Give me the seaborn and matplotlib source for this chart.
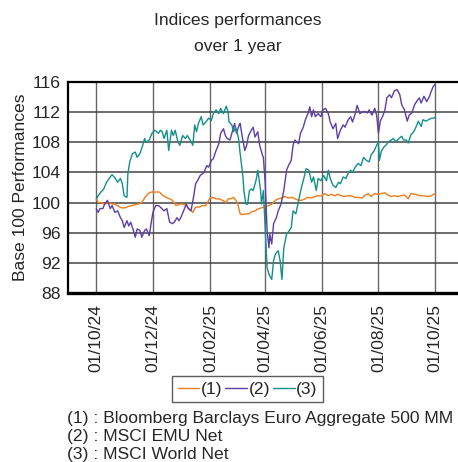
import numpy as np
import pandas as pd
import matplotlib
matplotlib.use("Agg")
import matplotlib.pyplot as plt
import seaborn as sns

# ---------------- data ----------------
start_date = "2024-10-01"
series_names = ["(1)", "(2)", "(3)"]
series_desc = ["Bloomberg Barclays Euro Aggregate 500 MM", "MSCI EMU Net", "MSCI World Net"]

days_1 = [0, 2, 6, 9, 13, 17, 20, 24, 27, 31, 35, 38, 42, 45, 49, 52, 56, 59, 63, 67, 68, 72, 75, 79,
          82, 86, 90, 93, 97, 100, 104, 107, 111, 114, 118, 122, 125, 129, 132, 136, 140, 142, 145,
          148, 152, 155, 157, 161, 164, 168, 171, 175, 178, 182, 186, 189, 193, 196, 200, 203, 207,
          211, 214, 218, 221, 225, 228, 232, 235, 239, 243, 246, 250, 253, 257, 260, 264, 268, 271,
          275, 278, 282, 286, 289, 293, 296, 300, 303, 307, 311, 314, 318, 321, 325, 328, 332, 336,
          339, 343, 346, 350, 353, 357, 361, 365]
vals_1 = [100.5, 100.0, 100.0, 99.8, 100.0, 99.8, 99.8, 99.5, 99.3, 99.3, 99.5, 99.6, 99.7, 99.8,
          100.0, 100.6, 101.2, 101.4, 101.4, 101.4, 101.4, 100.9, 100.7, 100.5, 100.3, 99.6, 99.8,
          99.8, 99.6, 99.2, 98.7, 99.4, 99.4, 99.6, 99.6, 100.5, 100.7, 100.5, 100.5, 100.3, 100.0,
          100.5, 100.5, 100.7, 100.0, 98.5, 98.4, 98.5, 98.5, 98.8, 98.9, 99.2, 99.3, 99.5, 99.6,
          99.8, 100.3, 100.5, 100.6, 100.8, 100.6, 100.7, 100.5, 100.3, 100.3, 100.5, 100.7, 100.6,
          100.8, 100.9, 100.9, 101.2, 100.9, 101.1, 100.9, 101.1, 100.9, 100.8, 100.9, 100.9, 100.7,
          100.7, 100.6, 100.9, 101.2, 100.8, 101.2, 101.1, 101.2, 101.3, 101.0, 100.8, 100.9, 100.8,
          100.9, 101.0, 100.5, 101.2, 101.1, 101.0, 100.9, 100.9, 100.8, 100.9, 101.2]

days_2 = [0, 2, 4, 7, 9, 12, 15, 17, 20, 23, 26, 28, 30, 33, 35, 37, 40, 42, 44, 47, 49, 52, 54, 57,
          59, 61, 64, 67, 69, 73, 76, 79, 82, 84, 87, 89, 91, 94, 97, 99, 102, 105, 107, 109, 112,
          114, 116, 119, 121, 124, 126, 129, 132, 134, 137, 139, 141, 144, 146, 149, 151, 154, 155,
          157, 160, 162, 164, 167, 169, 171, 174, 176, 179, 180, 182, 184, 186, 187, 189, 191, 194,
          196, 199, 202, 205, 207, 210, 212, 214, 218, 220, 223, 225, 228, 230, 232, 234, 236, 239,
          242, 244, 247, 250, 252, 255, 258, 260, 263, 266, 268, 271, 274, 276, 279, 281, 284, 286,
          289, 292, 294, 297, 300, 302, 304, 306, 309, 311, 313, 316, 318, 321, 324, 327, 329, 332,
          335, 337, 340, 343, 345, 348, 350, 353, 356, 359, 361, 363, 365]
vals_2 = [99.2, 98.7, 99.2, 99.2, 99.8, 100.3, 99.2, 99.6, 98.7, 98.9, 98.0, 97.6, 96.7, 97.6, 96.9,
          97.4, 96.3, 95.4, 96.5, 96.3, 95.4, 96.3, 96.5, 95.6, 97.2, 98.7, 99.6, 99.6, 99.4, 98.9,
          99.2, 97.4, 97.2, 97.4, 98.0, 97.6, 98.0, 98.9, 99.8, 99.2, 98.9, 100.9, 102.5, 102.9,
          103.6, 103.8, 104.0, 104.9, 104.7, 105.6, 105.8, 106.9, 107.8, 109.2, 109.8, 108.9, 108.5,
          108.3, 109.2, 110.5, 109.2, 110.3, 110.5, 108.9, 106.9, 107.6, 108.9, 109.6, 110.0, 108.7,
          109.4, 107.6, 106.3, 106.0, 102.5, 96.3, 94.0, 95.8, 94.5, 97.2, 98.0, 98.9, 99.8, 101.6,
          104.3, 104.9, 105.6, 107.6, 108.3, 107.8, 109.2, 110.0, 110.9, 111.8, 112.7, 111.4, 112.3,
          111.4, 111.8, 111.4, 112.3, 112.5, 111.8, 110.7, 109.8, 110.5, 108.5, 109.6, 110.3, 110.0,
          110.9, 111.4, 110.7, 111.8, 112.9, 111.8, 112.0, 112.1, 111.9, 112.3, 111.6, 112.5, 111.6,
          109.2, 110.8, 111.6, 112.3, 113.9, 114.3, 113.9, 114.8, 115.0, 114.3, 113.0, 112.3, 110.8,
          111.6, 111.9, 113.0, 113.4, 113.9, 113.2, 114.1, 113.4, 114.1, 114.8, 115.4, 115.7]

days_3 = [0, 2, 5, 8, 11, 15, 17, 20, 23, 26, 28, 30, 33, 34, 36, 39, 42, 44, 47, 50, 52, 54, 57, 60,
          63, 67, 69, 71, 73, 76, 78, 81, 83, 85, 88, 90, 93, 96, 98, 101, 104, 106, 108, 110, 113,
          115, 118, 121, 124, 126, 129, 132, 134, 137, 140, 142, 143, 146, 148, 150, 153, 155, 158,
          159, 161, 163, 165, 167, 169, 172, 174, 177, 178, 180, 183, 184, 186, 189, 191, 193, 196,
          198, 200, 202, 205, 208, 210, 212, 215, 218, 221, 224, 226, 229, 232, 234, 237, 239, 242,
          245, 248, 250, 252, 255, 258, 261, 263, 266, 269, 271, 274, 276, 279, 282, 285, 288, 291,
          294, 296, 299, 302, 304, 305, 307, 310, 312, 315, 318, 320, 323, 326, 329, 331, 334, 336,
          339, 342, 344, 347, 350, 352, 355, 358, 361, 363, 365]
vals_3 = [100.5, 100.9, 101.4, 101.8, 102.7, 103.4, 103.7, 103.3, 102.7, 103.2, 102.5, 100.9, 100.7,
          103.8, 105.4, 106.5, 106.7, 106.0, 106.5, 107.6, 108.5, 108.0, 108.3, 109.2, 109.6, 109.2,
          109.6, 109.4, 108.5, 109.6, 106.9, 109.6, 108.9, 109.6, 108.0, 107.6, 108.9, 108.5, 108.9,
          108.3, 107.6, 110.3, 109.4, 110.5, 111.4, 110.3, 110.7, 111.2, 110.9, 111.8, 112.3, 111.8,
          112.5, 111.8, 112.8, 112.0, 110.7, 110.3, 109.4, 110.0, 108.7, 106.5, 103.4, 101.6, 99.8,
          99.8, 101.6, 101.8, 101.6, 102.9, 104.3, 101.6, 99.8, 101.6, 94.0, 91.4, 90.5, 89.8, 92.3,
          93.2, 93.6, 92.3, 89.8, 94.0, 95.8, 96.3, 96.7, 98.9, 98.5, 100.3, 102.0, 103.4, 104.5,
          104.3, 102.7, 103.4, 101.6, 103.2, 102.9, 103.6, 102.9, 104.3, 103.2, 102.3, 102.0, 102.7,
          102.5, 103.4, 103.2, 103.8, 104.3, 104.0, 104.7, 105.2, 104.9, 106.0, 105.6, 105.4, 106.3,
          106.8, 107.6, 108.1, 105.6, 106.8, 107.4, 107.6, 108.1, 108.3, 108.5, 108.1, 108.5, 108.8,
          108.3, 108.3, 107.9, 109.0, 109.4, 109.9, 110.8, 110.1, 111.0, 110.8, 111.0, 111.2, 111.2,
          111.3]

x_tick_labels = ["01/10/24", "01/12/24", "01/02/25", "01/04/25", "01/06/25", "01/08/25", "01/10/25"]
y_ticks = [88, 92, 96, 100, 104, 108, 112, 116]

# ---------------- build frame ----------------
t0 = pd.Timestamp(start_date)
frames = []
for name, d, v in zip(series_names, [days_1, days_2, days_3], [vals_1, vals_2, vals_3]):
    frames.append(pd.DataFrame({"date": t0 + pd.to_timedelta(d, unit="D"),
                                "value": v, "series": name}))
df = pd.concat(frames, ignore_index=True)

colors = {"(1)": "#ef7d1a", "(2)": "#5b3fa6", "(3)": "#13908a"}

sns.set_style("white")
plt.rcParams["font.family"] = ["Liberation Sans", "DejaVu Sans"]
FS = 12.6

fig = plt.figure(figsize=(4.58, 4.62), dpi=100)
W, H = 458, 462
ax = fig.add_axes([68 / W, 1 - 293 / H, (462 - 68) / W, (293 - 82) / H])

sns.lineplot(data=df, x="date", y="value", hue="series", palette=colors,
             linewidth=1.0, ax=ax, legend=False, estimator=None, sort=True)

ax.set_xlim(t0 - pd.Timedelta(days=30.5), t0 + pd.Timedelta(days=394))
ax.set_ylim(88, 116)
ax.set_yticks(y_ticks)
ax.set_yticklabels([str(v) for v in y_ticks])
xt = [pd.Timestamp(pd.to_datetime(s, format="%d/%m/%y")) for s in x_tick_labels]
ax.set_xticks(xt)
ax.set_xticklabels(x_tick_labels, rotation=90)
ax.tick_params(axis="both", labelsize=FS, length=3, width=1, color="#333333", pad=2)
ax.tick_params(axis="x", pad=5)

ax.grid(True, axis="y", color="#444444", linewidth=1.1)
ax.grid(True, axis="x", color="#666666", linewidth=1.0)
ax.set_axisbelow(True)
for s in ["left", "top", "right"]:
    ax.spines[s].set_color("black")
    ax.spines[s].set_linewidth(1.6)
ax.spines["bottom"].set_color("black")
ax.spines["bottom"].set_linewidth(2.4)
ax.set_xlabel("")
ax.set_ylabel("Base 100 Performances", fontsize=FS, labelpad=3)

fig.text(238 / W, 1 - 20 / H, "Indices performances", ha="center", va="center", fontsize=FS)
fig.text(238 / W, 1 - 46 / H, "over 1 year", ha="center", va="center", fontsize=FS)

handles = [plt.Line2D([], [], color=colors[n], linewidth=1.0) for n in series_names]
leg = fig.legend(handles, series_names, loc="center", bbox_to_anchor=(247.5 / W, 1 - 389 / H),
                 ncol=3, fontsize=FS, frameon=True, fancybox=False, edgecolor="#333333",
                 handlelength=1.25, handletextpad=0.08, columnspacing=0.15, borderpad=0.32,
                 borderaxespad=0)
leg.get_frame().set_linewidth(1.0)

for i, (n, desc) in enumerate(zip(series_names, series_desc)):
    fig.text(67 / W, 1 - (418 + 18.5 * i) / H, f"{n} : {desc}", ha="left", va="center", fontsize=FS)

fig.savefig("out.png", dpi=100)
